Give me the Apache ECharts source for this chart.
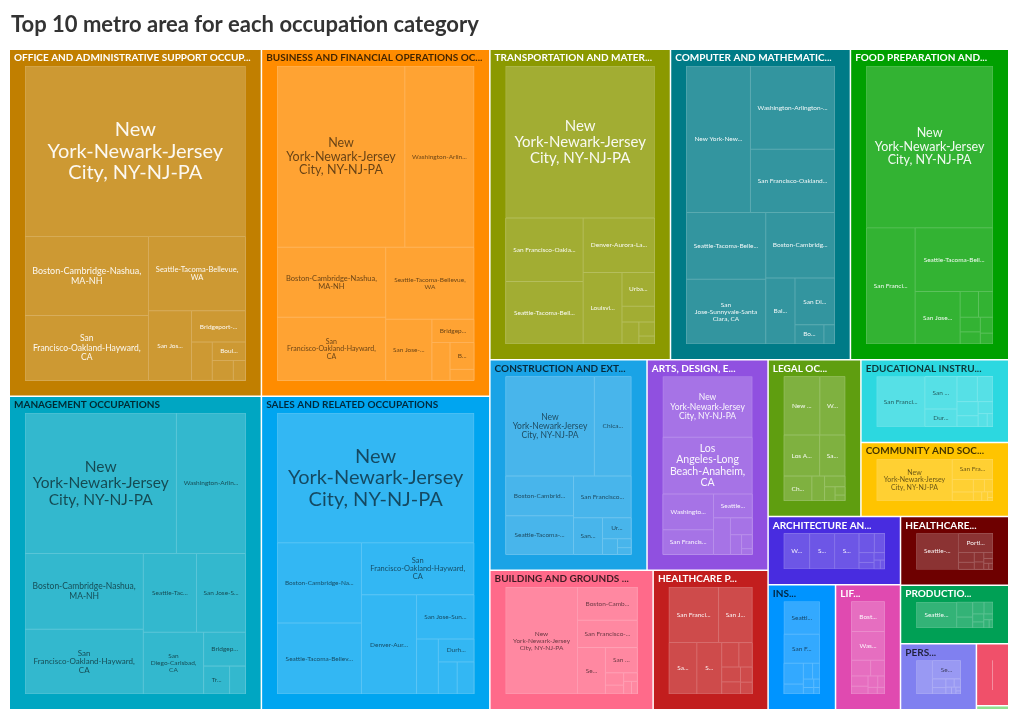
<!DOCTYPE html>
<html><head><meta charset="utf-8">
<script src="https://cdn.jsdelivr.net/npm/echarts@6/dist/echarts.min.js"></script>
<style>html,body{margin:0;padding:0;background:#fff}#main{width:1020px;height:721px}</style>
</head><body><div id="main"></div>
<script>
// ---------- DATA ----------
const TITLE = 'Top 10 metro area for each occupation category';
const categories = [
  'OFFICE AND ADMINISTRATIVE SUPPORT OCCUPATIONS',
  'BUSINESS AND FINANCIAL OPERATIONS OCCUPATIONS',
  'TRANSPORTATION AND MATERIAL MOVING OCCUPATIONS',
  'COMPUTER AND MATHEMATICAL OCCUPATIONS',
  'FOOD PREPARATION AND SERVING RELATED OCCUPATIONS',
  'MANAGEMENT OCCUPATIONS',
  'SALES AND RELATED OCCUPATIONS',
  'CONSTRUCTION AND EXTRACTION OCCUPATIONS',
  'ARTS, DESIGN, ENTERTAINMENT, SPORTS, AND MEDIA OCCUPATIONS',
  'LEGAL OCCUPATIONS',
  'EDUCATIONAL INSTRUCTION AND LIBRARY OCCUPATIONS',
  'COMMUNITY AND SOCIAL SERVICE OCCUPATIONS',
  'BUILDING AND GROUNDS CLEANING AND MAINTENANCE OCCUPATIONS',
  'HEALTHCARE PRACTITIONERS AND TECHNICAL OCCUPATIONS',
  'ARCHITECTURE AND ENGINEERING OCCUPATIONS',
  'HEALTHCARE SUPPORT OCCUPATIONS',
  'INSTALLATION, MAINTENANCE, AND REPAIR OCCUPATIONS',
  'LIFE, PHYSICAL, AND SOCIAL SCIENCE OCCUPATIONS',
  'PRODUCTION OCCUPATIONS',
  'PERSONAL CARE AND SERVICE OCCUPATIONS',
  'PROTECTIVE SERVICE OCCUPATIONS',
  'FARMING, FISHING, AND FORESTRY OCCUPATIONS'
];

const NY = 'New York-Newark-Jersey City, NY-NJ-PA', SF = 'San Francisco-Oakland-Hayward, CA',
  SJ = 'San Jose-Sunnyvale-Santa Clara, CA', BOS = 'Boston-Cambridge-Nashua, MA-NH',
  SEA = 'Seattle-Tacoma-Bellevue, WA', DC = 'Washington-Arlington-Alexandria, DC-VA-MD-WV',
  LA = 'Los Angeles-Long Beach-Anaheim, CA', BRI = 'Bridgeport-Stamford-Norwalk, CT',
  BOU = 'Boulder, CO', DEN = 'Denver-Aurora-Lakewood, CO', CHI = 'Chicago-Naperville-Elgin, IL-IN-WI',
  SD = 'San Diego-Carlsbad, CA', HON = 'Urban Honolulu, HI', DUR = 'Durham-Chapel Hill, NC',
  TRE = 'Trenton, NJ', BAL = 'Baltimore-Columbia-Towson, MD', POR = 'Portland-Vancouver-Hillsboro, OR-WA',
  ANC = 'Anchorage, AK', LOU = 'Louisville/Jefferson County, KY-IN', AUS = 'Austin-Round Rock, TX',
  VAL = 'Vallejo-Fairfield, CA', NAPA = 'Napa, CA', SCZ = 'Santa Cruz-Watsonville, CA',
  KAH = 'Kahului-Wailuku-Lahaina, HI', FAI = 'Fairbanks, AK', SAC = 'Sacramento--Roseville--Arden-Arcade, CA',
  HOU = 'Houston-The Woodlands-Sugar Land, TX', HSV = 'Huntsville, AL', MIN = 'Minneapolis-St. Paul-Bloomington, MN-WI',
  ANN = 'Ann Arbor, MI', SRO = 'Santa Rosa, CA', SAL = 'Salinas, CA';

const metros_office = [NY, BOS, SF, SEA, SJ, BRI, DC, BOU, VAL, TRE];
const values_office = [472.8, 122.6, 100.8, 90.7, 37.7, 21.3, 10.0, 7.7, 5.3, 3.1];
const metros_business = [NY, DC, BOS, SF, SEA, SJ, BRI, DUR, BOU, TRE];
const values_business = [295.1, 160.3, 97.0, 87.3, 81.3, 36.0, 12.4, 8.8, 8.3, 3.4];
const metros_transport = [NY, SF, SEA, DEN, LOU, HON, ANC, 'Memphis, TN-MS-AR', FAI, 'Laredo, TX'];
const values_transport = [305.5, 66.4, 65.4, 52.7, 37.4, 14.9, 7.0, 5.0, 3.0, 1.7];
const metros_computer = [NY, DC, SF, SEA, SJ, BOS, BAL, SD, BOU, HSV];
const values_computer = [127.0, 94.5, 72.0, 71.5, 69.5, 61.0, 26.0, 25.0, 7.5, 2.8];
const metros_food = [NY, SF, SEA, SJ, HON, BOS, DC, KAH, NAPA, SCZ];
const values_food = [285.2, 79.0, 68.8, 32.9, 6.6, 5.2, 4.1, 3.4, 2.8, 1.9];
const metros_management = [NY, DC, BOS, SF, SEA, SJ, SD, BRI, TRE, BOU];
const values_management = [270.4, 123.6, 113.9, 97.4, 53.2, 49.2, 47.3, 18.1, 9.2, 5.7];
const metros_sales = [NY, BOS, SEA, SF, DEN, SJ, BOU, DUR, AUS, TRE];
const values_sales = [329.9, 87.1, 77.3, 75.6, 70.5, 32.7, 15.5, 10.6, 7.8, 7.0];
const metros_construction = [NY, CHI, BOS, SEA, SF, SJ, HON, ANC, FAI, KAH];
const values_construction = [130.2, 54.1, 39.8, 38.8, 35.6, 15.7, 8.9, 3.5, 1.8, 1.4];
const metros_arts = [NY, LA, DC, SF, SEA, CHI, SJ, 'Nashville-Davidson--Murfreesboro--Franklin, TN', BOS, 'Atlanta-Sandy Springs-Roswell, GA'];
const values_arts = [86.6, 80.9, 28.9, 20.1, 14.8, 9.9, 5.9, 3.5, 2.4, 1.0];
const metros_legal = [NY, DC, LA, SF, CHI, BOS, 'Miami-Fort Lauderdale-West Palm Beach, FL', 'Philadelphia-Camden-Wilmington, PA-NJ-DE-MD', HOU, 'Dallas-Fort Worth-Arlington, TX'];
const values_legal = [40.0, 28.2, 28.0, 20.0, 13.2, 6.0, 4.2, 2.8, 1.6, 1.1];
const metros_education = [SF, SJ, DUR, BOS, ANN, 'Ithaca, NY', 'State College, PA', TRE, 'New Haven-Milford, CT', BOU];
const values_education = [50.5, 21.8, 11.9, 10.7, 8.2, 6.2, 4.9, 3.7, 2.5, 1.6];
const metros_community = [NY, SF, BOS, SEA, DC, SJ, SAC, POR, MIN, HON];
const values_community = [70.9, 18.5, 6.0, 4.2, 3.1, 2.4, 1.7, 1.2, 0.7, 0.4];
const metros_building = [NY, BOS, SF, SEA, SJ, DC, LA, CHI, HON, BRI];
const values_building = [123.8, 32.1, 26.3, 20.9, 13.0, 3.6, 2.6, 1.9, 1.6, 1.2];
const metros_healthprac = [SF, SJ, SAC, SRO, VAL, NAPA, SCZ, HON, SAL, ANC];
const values_healthprac = [49.4, 33.6, 25.7, 22.9, 7.5, 5.9, 5.0, 4.1, 3.2, 2.5];
const metros_architecture = [DC, SJ, SF, SEA, BOS, HSV, SD, HOU, DEN, BOU];
const values_architecture = [23.0, 22.3, 21.8, 7.4, 5.0, 3.7, 2.5, 2.0, 1.4, 1.0];
const metros_healthsupport = [SEA, POR, SF, SJ, ANC, MIN, BOS, HON, SAC, FAI];
const values_healthsupport = [40.7, 17.6, 4.2, 3.0, 2.4, 1.9, 1.5, 1.2, 0.8, 0.7];
const metros_installation = [SEA, SF, SJ, ANC, HON, FAI, DC, BOS, VAL, KAH];
const values_installation = [29.8, 26.2, 10.3, 4.9, 3.7, 2.9, 2.2, 1.7, 1.3, 1.0];
const metros_life = [BOS, DC, SF, SJ, SD, SEA, DUR, ANN, BAL, TRE];
const values_life = [26.1, 25.3, 7.9, 5.8, 4.5, 3.4, 2.9, 2.1, 1.6, 1.3];
const metros_production = [SEA, SJ, SF, POR, ANC, 'Wichita, KS', HOU, BOS, FAI, HON];
const values_production = [33.2, 7.7, 5.5, 4.3, 3.4, 2.8, 2.1, 1.7, 1.4, 1.0];
const metros_personal = [NY, SEA, SF, SJ, BOS, DC, HON, KAH, NAPA, ANC];
const values_personal = [18.2, 17.5, 3.9, 2.9, 2.3, 1.8, 1.3, 1.0, 0.6, 0.5];
const metros_protective = [SF, SJ, LA, SEA, SAC, VAL, ANC, HON, FAI, NAPA];
const values_protective = [5.0, 3.5, 2.8, 2.2, 1.8, 1.5, 1.2, 0.9, 0.6, 0.5];
const metros_farming = [SF, SEA, SJ, SAL, 'Fresno, CA', 'Bakersfield, CA', 'Yakima, WA', 'Wenatchee, WA', 'Visalia-Porterville, CA', NAPA];
const values_farming = [0.3, 0.2, 0.2, 0.15, 0.12, 0.1, 0.08, 0.06, 0.05, 0.04];

const metroLists = [metros_office, metros_business, metros_transport, metros_computer, metros_food,
  metros_management, metros_sales, metros_construction, metros_arts, metros_legal, metros_education,
  metros_community, metros_building, metros_healthprac, metros_architecture, metros_healthsupport,
  metros_installation, metros_life, metros_production, metros_personal, metros_protective, metros_farming];
const valueLists = [values_office, values_business, values_transport, values_computer, values_food,
  values_management, values_sales, values_construction, values_arts, values_legal, values_education,
  values_community, values_building, values_healthprac, values_architecture, values_healthsupport,
  values_installation, values_life, values_production, values_personal, values_protective, values_farming];

// ---------- STYLE ----------
const frameColors = ['#c17f00', '#ff8c00', '#8b9900', '#007b87', '#00a000', '#00a6c2', '#00a5f0', '#1aa3e6',
  '#9050e0', '#5f9e10', '#2cd8e0', '#ffc400', '#ff6a8a', '#c21e1e', '#482ce0', '#6e0000', '#0094ff',
  '#e04ab0', '#00a055', '#8080f0', '#f0506a', '#90e090'];
const darkText = [false, true, false, false, false, true, true, true, false, false, true, true, true,
  false, false, false, true, false, false, true, false, true];
const FONT = 'Lato, "Noto Sans", sans-serif';
const GAP = 1.5;

function mix(hex, t) {
  const n = parseInt(hex.slice(1), 16);
  const r = (n >> 16) & 255, g = (n >> 8) & 255, b = n & 255;
  const f = c => Math.round(c + (255 - c) * t);
  return 'rgb(' + f(r) + ',' + f(g) + ',' + f(b) + ')';
}

const ctx = document.createElement('canvas').getContext('2d');
function tw(text, size, bold) {
  ctx.font = (bold ? 'bold ' : '') + size + 'px Lato';
  return ctx.measureText(text).width;
}
function wrap(text, size, maxW) {
  const words = text.split(' ');
  const lines = []; let cur = '';
  for (const w of words) {
    if (tw(w, size) > maxW) return null;
    const t = cur ? cur + ' ' + w : w;
    if (tw(t, size) <= maxW) cur = t; else { lines.push(cur); cur = w; }
  }
  if (cur) lines.push(cur);
  return lines;
}
const LH = 1.08, MAXF = 20, MINF = 6.5;
function fitLabel(text, w, h) {
  const aw = w - 13, ah = h - 8;
  for (let s = MAXF; s >= MINF; s -= 0.5) {
    const lines = wrap(text, s, aw);
    if (lines && lines.length * s * LH <= ah) return { text: lines.join('\n'), size: s };
  }
  const s = MINF;
  if (ah < s * LH) return null;
  for (let n = text.length - 1; n >= 1; n--) {
    const t = text.slice(0, n) + '...';
    if (tw(t, s) <= aw) return { text: t, size: s };
  }
  return null;
}
function headerText(name, w) {
  const avail = Math.min(w - 8, 1.2 * w - 55);
  if (avail <= 0) return ' ';
  if (tw(name, 10, true) <= avail) return name;
  for (let n = name.length - 1; n >= 3; n--) {
    const t = name.slice(0, n) + '...';
    if (tw(t, 10, true) <= avail) return t;
  }
  return ' ';
}

// d3-style binary partition, expressed as nested groups for the ECharts treemap
function binary(nodes, makeGroup) {
  const sums = [0];
  for (const n of nodes) sums.push(sums[sums.length - 1] + n.value);
  function part(i, j) {
    if (i >= j - 1) return nodes[i];
    const offset = sums[i], value = sums[j] - offset, target = value / 2 + offset;
    let k = i + 1, hi = j - 1;
    while (k < hi) { const mid = (k + hi) >>> 1; if (sums[mid] < target) k = mid + 1; else hi = mid; }
    if ((target - sums[k - 1]) < (sums[k] - target) && i + 1 < k) --k;
    return makeGroup([part(i, k), part(k, j)], value);
  }
  return part(0, nodes.length);
}

function buildData() {
  const cats = categories.map((name, ci) => {
    const frame = frameColors[ci], cell = mix(frame, 0.2), line = mix(frame, 0.36);
    const leaves = metroLists[ci].map((m, j) => ({
      name: m, value: valueLists[ci][j], ci: ci, isLeaf: true,
      itemStyle: { color: cell, borderColor: line, borderWidth: 0.5, gapWidth: 0 },
      label: { show: false }
    })).sort((a, b) => b.value - a.value);
    const total = leaves.reduce((s, l) => s + l.value, 0);
    const inner = binary(leaves, (ch, v) => ({
      name: '', value: v, children: ch,
      itemStyle: { borderWidth: 0, gapWidth: 0, borderColor: line },
      label: { show: false }, upperLabel: { show: false }
    }));
    return {
      name, value: total, ci: ci, isCat: true,
      children: inner.children ? inner.children : [inner],
      itemStyle: { color: frame, borderColor: frame, borderWidth: 15, gapWidth: 0 },
      label: { show: false },
      upperLabel: {
        show: true, height: 16, position: [-11, '50%'], align: 'left', verticalAlign: 'middle',
        formatter: ' ', fontFamily: FONT, fontSize: 10, fontWeight: 'bold', padding: 0, overflow: 'none',
        color: darkText[ci] ? 'rgba(0,0,0,0.75)' : '#ffffff'
      }
    };
  }).sort((a, b) => b.value - a.value);
  const top = binary(cats, (ch, v) => ({
    name: '', value: v, children: ch,
    itemStyle: { borderWidth: 0, gapWidth: GAP, borderColor: '#ffffff' },
    label: { show: false }, upperLabel: { show: false }
  }));
  return top.children;
}

function makeOption(data) {
  return {
    animation: false,
    title: {
      text: TITLE, left: 11, top: 14, padding: 0,
      textStyle: { fontFamily: FONT, fontSize: 22, fontWeight: 'bold', color: '#333333' }
    },
    series: [{
      type: 'treemap', left: 10, top: 50, right: 12, bottom: 12,
      roam: false, nodeClick: false, sort: false, squareRatio: 1, visibleMin: 0,
      breadcrumb: { show: false },
      itemStyle: { borderWidth: 0, gapWidth: GAP, borderColor: '#ffffff' },
      label: { show: false }, upperLabel: { show: false },
      emphasis: { disabled: true },
      data: data
    }]
  };
}

const chart = echarts.init(document.getElementById('main'));
const data = buildData();
chart.setOption(makeOption(data));

// second pass: size labels to the cells the library laid out
const tree = chart.getModel().getSeriesByIndex(0).getData().tree;
function walk(ec, my) {
  const lay = ec && ec.getLayout();
  if (lay) {
    if (my.isCat) {
      my.upperLabel.formatter = headerText(my.name, lay.width);
    } else if (my.isLeaf) {
      const bw = lay.borderWidth || 0;
      const fit = fitLabel(my.name, lay.width - 2 * bw, lay.height - 2 * bw);
      if (fit) {
        my.label = {
          show: true, formatter: fit.text, fontSize: fit.size, lineHeight: Math.round(fit.size * LH * 10) / 10,
          fontFamily: FONT, padding: 0, overflow: 'none',
          color: darkText[my.ci] ? 'rgba(0,0,0,0.6)' : 'rgba(255,255,255,0.93)'
        };
      }
    }
  }
  if (my.children && ec) my.children.forEach((c, i) => walk(ec.children[i], c));
}
data.forEach((c, i) => walk(tree.root.children[i], c));
chart.setOption(makeOption(data), true);
</script></body></html>
